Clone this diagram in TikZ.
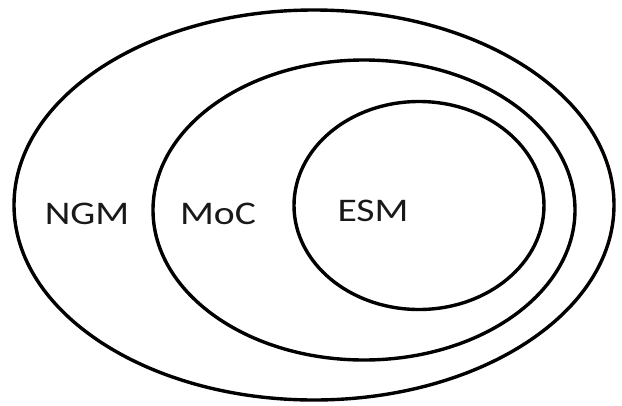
\documentclass[tikz,border=0pt]{standalone}
\usepackage{fontspec}
\setmainfont{Carlito}
\begin{document}
\begin{tikzpicture}[x=1pt,y=-1pt,
  ring/.style={draw=black,line width=3.4pt},
  lbl/.style={font=\fontsize{33}{38}\selectfont,text=black!90,xscale=1.2,inner sep=0pt}]
\useasboundingbox (0,0) rectangle (622,405);
\draw[ring] (314,205) ellipse [x radius=300, y radius=195];
\draw[ring] (364,210) ellipse [x radius=211, y radius=150];
\draw[ring] (419,205.5) ellipse [x radius=125, y radius=104];
\node[lbl] (ngm) at (87,214) {NGM};
\node[lbl] (moc) at (218,214) {MoC};
\node[lbl] (esm) at (373,211) {ESM};
\end{tikzpicture}
\end{document}
